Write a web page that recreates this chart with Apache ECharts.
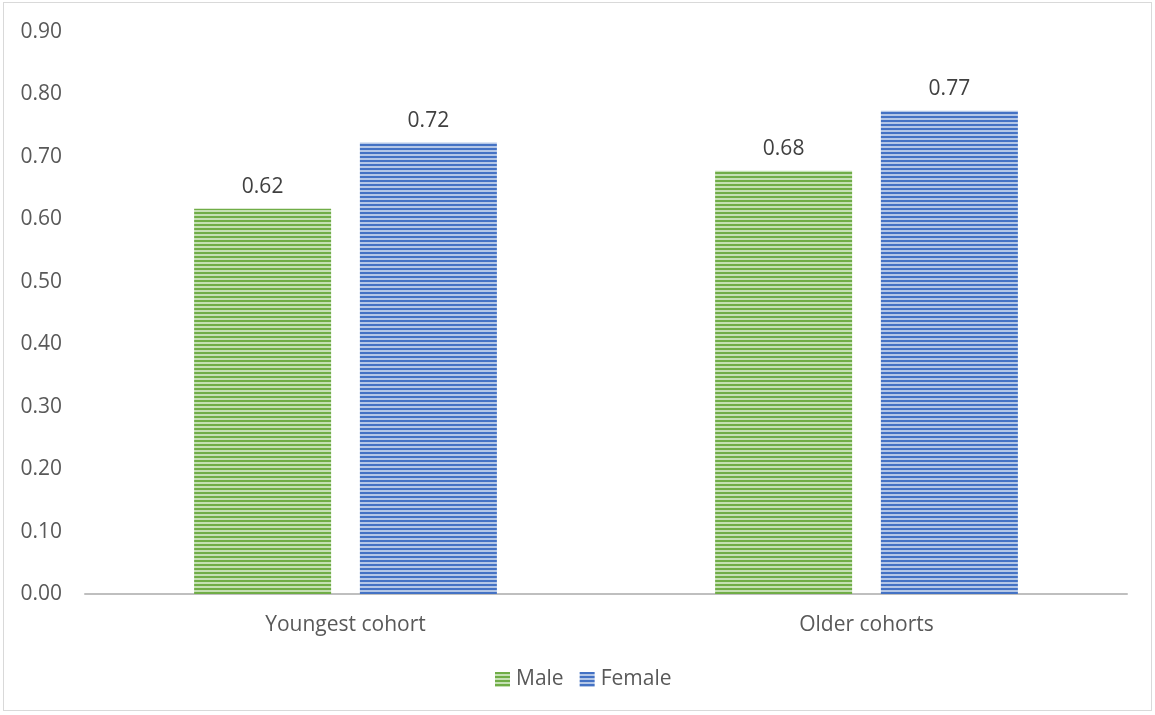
<!DOCTYPE html>
<html><head><meta charset="utf-8">
<script src="https://cdn.jsdelivr.net/npm/echarts@6/dist/echarts.min.js"></script>
<style>html,body{margin:0;padding:0;background:#fff}#c{width:1155px;height:715px}
#frame{position:absolute;left:3px;top:2px;width:1149px;height:709px;border:1px solid #d9d9d9;box-sizing:border-box;pointer-events:none}</style>
</head><body><div id="c"></div><div id="frame"></div>
<script>
const categories = ['Youngest cohort', 'Older cohorts'];
const seriesNames = ['Male', 'Female'];
const maleValues = [0.617, 0.678];
const femaleValues = [0.723, 0.774];
const yTicks = { min: 0, max: 0.9, interval: 0.1 };

function stripes(dark, light) {
  const c = document.createElement('canvas');
  c.width = 8; c.height = 4;
  const g = c.getContext('2d');
  g.fillStyle = light; g.fillRect(0, 0, 8, 4);
  g.fillStyle = dark; g.fillRect(0, 0, 8, 2);
  return { image: c, repeat: 'repeat' };
}
const greenPat = stripes('#70ad47', '#c5e0b4');
const bluePat = stripes('#4472c4', '#b4c7e7');

const chart = echarts.init(document.getElementById('c'));
const lbl = { show: true, position: 'top', distance: 11, color: '#404040', fontSize: 21,
  fontFamily: 'Open Sans', formatter: p => p.value.toFixed(2) };
chart.setOption({
  animation: false,
  grid: { left: 85, right: 28, top: 32, bottom: 121 },
  legend: {
    bottom: 20, left: 490, itemWidth: 15, itemHeight: 15, itemGap: 16,
    textStyle: { color: '#595959', fontSize: 21, fontFamily: 'Open Sans', padding: [0, 0, 0, 1] },
    data: [
      { name: seriesNames[0], icon: 'rect', itemStyle: { color: greenPat } },
      { name: seriesNames[1], icon: 'rect', itemStyle: { color: bluePat } }
    ]
  },
  xAxis: {
    type: 'category', data: categories,
    axisLine: { lineStyle: { color: '#bfbfbf', width: 2 } },
    axisTick: { show: false },
    axisLabel: { color: '#595959', fontSize: 21, fontFamily: 'Open Sans', margin: 21 }
  },
  yAxis: {
    type: 'value', min: yTicks.min, max: yTicks.max, interval: yTicks.interval,
    splitLine: { show: false }, axisLine: { show: false }, axisTick: { show: false },
    axisLabel: { color: '#595959', fontSize: 21, fontFamily: 'Open Sans', margin: 23,
      formatter: v => v.toFixed(2) }
  },
  series: [
    { name: seriesNames[0], type: 'bar', data: maleValues, barWidth: 137, barGap: '21%',
      itemStyle: { color: greenPat }, label: lbl },
    { name: seriesNames[1], type: 'bar', data: femaleValues, barWidth: 137,
      itemStyle: { color: bluePat }, label: lbl }
  ]
});
</script></body></html>
